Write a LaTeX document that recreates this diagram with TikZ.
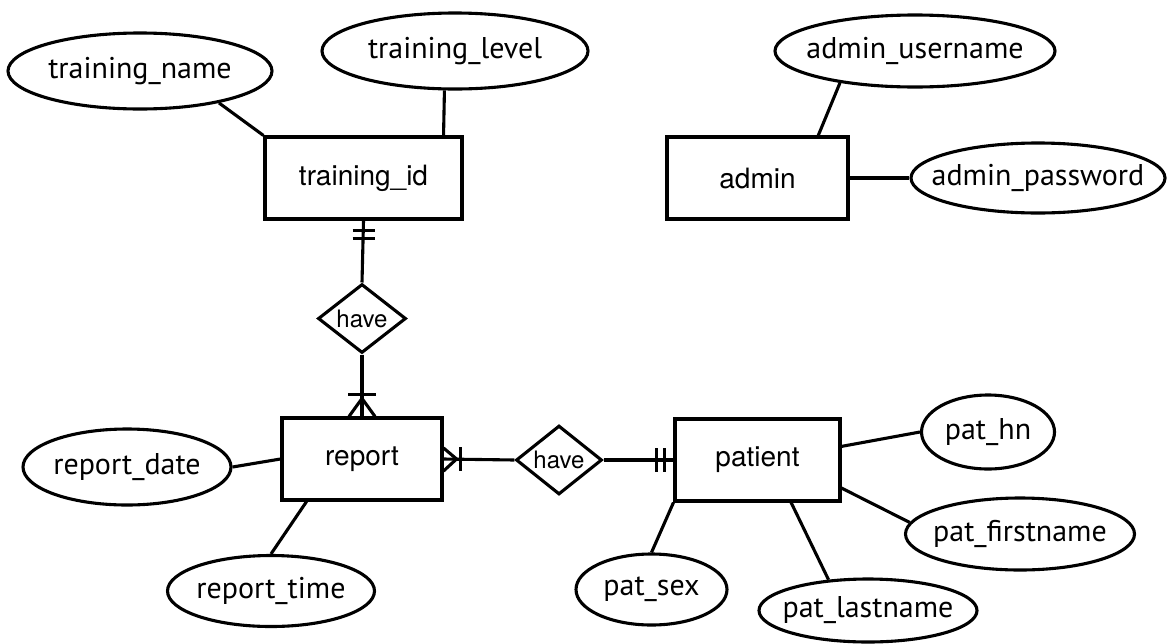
\documentclass[tikz,border=0pt]{standalone}
\usepackage{fontspec}
\setmainfont{TeX Gyre Heros}
\newfontfamily\attrfont{PT Sans}
\usetikzlibrary{shapes.geometric,calc}
\newcommand{\attrtxt}[1]{\makebox[0pt][c]{#1}}
\tikzset{
  lw/.style={line width=3.1pt},
  ent/.style={draw,lw,rectangle,inner sep=0pt,font=\fontsize{28}{31}\selectfont},
  attr/.style={draw,lw,ellipse,inner sep=0pt,font=\attrfont\fontsize{30}{34}\selectfont},
  rel/.style={draw,lw,diamond,inner sep=0pt,font=\fontsize{24}{27}\selectfont},
  conn/.style={lw},
}
\begin{document}
\begin{tikzpicture}[x=1pt,y=-1pt,line join=miter]
\useasboundingbox (0,0) rectangle (1169,643);
% entities
\node[ent,minimum width=197pt,minimum height=82pt] (tid) at (363.5,178) {training\_id};
\node[ent,minimum width=181pt,minimum height=82pt] (admin) at (757.5,178) {admin};
\node[ent,minimum width=160pt,minimum height=82pt] (report) at (362,459) {report};
\node[ent,minimum width=165pt,minimum height=82pt] (patient) at (757.5,460) {patient};
% relationships
\node[rel,minimum width=88pt,minimum height=63pt] (have1) at (362,318.5) {have};
\node[rel,minimum width=86pt,minimum height=64pt] (have2) at (559,460) {have};
% attributes
\node[attr,minimum width=264pt,minimum height=76pt] (tname) at (140,71) {\attrtxt{training\_name}};
\node[attr,minimum width=266pt,minimum height=76pt] (tlevel) at (455,51) {\attrtxt{training\_level}};
\node[attr,minimum width=280pt,minimum height=72pt] (auser) at (915,51) {\attrtxt{admin\_username}};
\node[attr,minimum width=254pt,minimum height=70pt] (apass) at (1038,178) {\attrtxt{admin\_password}};
\node[attr,minimum width=208pt,minimum height=76pt] (rdate) at (127,467) {\attrtxt{report\_date}};
\node[attr,minimum width=207pt,minimum height=71pt] (rtime) at (271,591) {\attrtxt{report\_time}};
\node[attr,minimum width=133pt,minimum height=74pt] (phn) at (988,432) {\attrtxt{pat\_hn}};
\node[attr,minimum width=229pt,minimum height=72pt] (pfirst) at (1020,534) {\attrtxt{pat\_firstname}};
\node[attr,minimum width=151pt,minimum height=71pt] (psex) at (651.5,589.5) {\attrtxt{pat\_sex}};
\node[attr,minimum width=218pt,minimum height=63pt] (plast) at (868,610.5) {\attrtxt{pat\_lastname}};
% attribute connectors
\draw[conn] (tname.-22) -- (tid.north west);
\draw[conn] (tlevel.-105) -- ($(tid.north west)!0.9!(tid.north east)$);
\draw[conn] (auser.-157) -- ($(admin.north west)!0.83!(admin.north east)$);
\draw[conn] (admin.east) -- (apass.west);
\draw[conn] (rdate.east) -- (report.west);
\draw[conn] (rtime.north) -- ($(report.south west)!0.16!(report.south east)$);
\draw[conn] ($(patient.north east)!0.34!(patient.south east)$) -- (phn.west);
\draw[conn] ($(patient.north east)!0.83!(patient.south east)$) -- (pfirst.174);
\draw[conn] (patient.south west) -- (psex.north);
\draw[conn] ($(patient.south west)!0.7!(patient.south east)$) -- (plast.142);
% relationship connectors
\draw[conn] (tid.south) -- (have1.north);
\draw[conn] ($(tid.south)+(-11,10)$) -- ++(22,0);
\draw[conn] ($(tid.south)+(-11,18)$) -- ++(22,0);
\draw[conn] (have1.south) -- (report.north);
\coordinate (rtapex) at ($(report.north)+(0,-18)$);
\draw[conn] ($(report.north)+(-13,0)$) -- (rtapex) -- ($(report.north)+(13,0)$);
\draw[conn] ($(report.north)+(-14,-22)$) -- ++(28,0);
\draw[conn] (report.east) -- (have2.west);
\coordinate (reapex) at ($(report.east)+(13,0)$);
\draw[conn] ($(report.east)+(0,-11)$) -- (reapex) -- ($(report.east)+(0,12)$);
\draw[conn] ($(report.east)+(17,-12)$) -- ++(0,24);
\draw[conn] (have2.east) -- (patient.west);
\draw[conn] ($(patient.west)+(-17,-12)$) -- ++(0,24);
\draw[conn] ($(patient.west)+(-9,-12)$) -- ++(0,24);
\end{tikzpicture}
\end{document}
